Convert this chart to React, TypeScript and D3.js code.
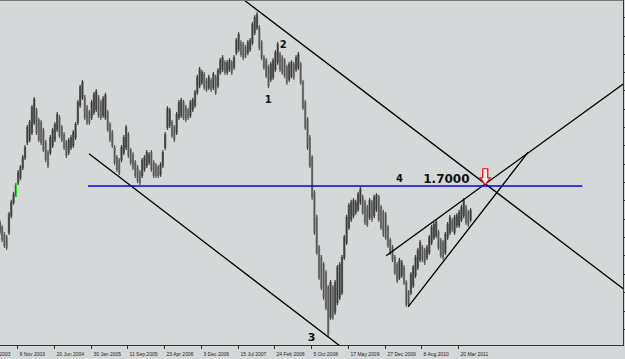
import React from 'react';
import * as d3 from 'd3';

// ---- data (GBP/USD weekly chart, bars sampled every two weeks) ----
const firstBarDate = '2003-07-27';
const barStepDays = 14;
const barHighs = [
  1.619, 1.607, 1.590, 1.583, 1.638, 1.667, 1.686, 1.707, 1.738, 1.750,
  1.774, 1.798, 1.846, 1.858, 1.894, 1.913, 1.887, 1.863, 1.858, 1.839,
  1.810, 1.786, 1.822, 1.839, 1.853, 1.877, 1.870, 1.846, 1.829, 1.810,
  1.815, 1.822, 1.834, 1.853, 1.906, 1.942, 1.954, 1.918, 1.894, 1.882,
  1.906, 1.925, 1.932, 1.918, 1.906, 1.915, 1.923, 1.882, 1.853, 1.834,
  1.798, 1.774, 1.767, 1.798, 1.822, 1.846, 1.829, 1.791, 1.781, 1.762,
  1.750, 1.738, 1.767, 1.774, 1.786, 1.781, 1.786, 1.762, 1.755, 1.750,
  1.757, 1.786, 1.829, 1.891, 1.887, 1.858, 1.846, 1.877, 1.906, 1.911,
  1.906, 1.894, 1.887, 1.906, 1.911, 1.930, 1.966, 1.985, 1.978, 1.973,
  1.958, 1.966, 1.958, 1.973, 1.966, 1.982, 2.006, 2.013, 2.001, 2.001,
  2.006, 2.001, 2.013, 2.054, 2.068, 2.049, 2.045, 2.037, 2.049, 2.054,
  2.092, 2.109, 2.116, 2.085, 2.049, 2.013, 2.006, 1.990, 1.997, 2.006,
  2.025, 2.045, 2.021, 2.013, 2.006, 1.990, 1.997, 2.001, 1.997, 2.013,
  2.021, 1.997, 1.954, 1.906, 1.865, 1.822, 1.774, 1.690, 1.631, 1.559,
  1.535, 1.518, 1.499, 1.463, 1.475, 1.463, 1.475, 1.511, 1.518, 1.535,
  1.583, 1.631, 1.659, 1.667, 1.671, 1.667, 1.686, 1.698, 1.679, 1.667,
  1.655, 1.671, 1.667, 1.679, 1.683, 1.679, 1.655, 1.643, 1.638, 1.607,
  1.576, 1.559, 1.535, 1.518, 1.528, 1.523, 1.511, 1.475, 1.451, 1.494,
  1.511, 1.535, 1.552, 1.571, 1.559, 1.552, 1.559, 1.583, 1.607, 1.614,
  1.619, 1.595, 1.576, 1.571, 1.590, 1.614, 1.631, 1.623, 1.631, 1.635,
  1.643, 1.655, 1.671, 1.655, 1.643, 1.647,
];
const barLows = [
  1.583, 1.566, 1.552, 1.547, 1.583, 1.623, 1.655, 1.674, 1.702, 1.714,
  1.738, 1.762, 1.798, 1.805, 1.822, 1.846, 1.822, 1.805, 1.798, 1.781,
  1.757, 1.743, 1.774, 1.791, 1.805, 1.829, 1.815, 1.805, 1.786, 1.767,
  1.774, 1.786, 1.791, 1.810, 1.846, 1.887, 1.906, 1.858, 1.846, 1.846,
  1.858, 1.870, 1.877, 1.863, 1.858, 1.863, 1.858, 1.829, 1.805, 1.791,
  1.750, 1.734, 1.726, 1.757, 1.774, 1.786, 1.767, 1.750, 1.738, 1.719,
  1.707, 1.702, 1.719, 1.734, 1.743, 1.750, 1.734, 1.719, 1.719, 1.719,
  1.722, 1.743, 1.786, 1.834, 1.839, 1.815, 1.805, 1.822, 1.858, 1.863,
  1.858, 1.853, 1.858, 1.863, 1.877, 1.887, 1.918, 1.934, 1.942, 1.930,
  1.925, 1.930, 1.925, 1.930, 1.918, 1.934, 1.966, 1.973, 1.966, 1.966,
  1.973, 1.966, 1.978, 2.013, 2.021, 2.009, 2.001, 2.006, 2.013, 2.021,
  2.037, 2.061, 2.073, 2.025, 2.001, 1.978, 1.958, 1.934, 1.949, 1.954,
  1.973, 1.990, 1.973, 1.966, 1.958, 1.942, 1.949, 1.958, 1.954, 1.973,
  1.978, 1.942, 1.882, 1.834, 1.786, 1.743, 1.667, 1.583, 1.535, 1.475,
  1.451, 1.427, 1.403, 1.339, 1.380, 1.380, 1.392, 1.415, 1.427, 1.439,
  1.523, 1.559, 1.595, 1.614, 1.623, 1.631, 1.638, 1.655, 1.631, 1.607,
  1.602, 1.619, 1.614, 1.623, 1.638, 1.614, 1.595, 1.578, 1.571, 1.552,
  1.535, 1.518, 1.487, 1.468, 1.475, 1.480, 1.463, 1.411, 1.411, 1.439,
  1.456, 1.480, 1.499, 1.518, 1.518, 1.511, 1.523, 1.535, 1.559, 1.571,
  1.576, 1.547, 1.528, 1.523, 1.535, 1.571, 1.583, 1.590, 1.583, 1.600,
  1.600, 1.614, 1.623, 1.607, 1.602, 1.614,
];
const signalBarIndex = 7;

const priceTicks = [
  2.104, 2.060, 2.016, 1.973, 1.929, 1.885, 1.841, 1.797, 1.753, 1.709,
  1.666, 1.622, 1.578, 1.534, 1.490, 1.446, 1.402, 1.359,
];
const timeTickLabels = [
  '30 Mar 2003', '9 Nov 2003', '20 Jun 2004', '30 Jan 2005', '11 Sep 2005',
  '23 Apr 2006', '3 Dec 2006', '15 Jul 2007', '24 Feb 2008', '5 Oct 2008',
  '17 May 2009', '27 Dec 2009', '8 Aug 2010', '20 Mar 2011',
];

// trend lines: [startDate, startPrice, endDate, endPrice]
const blackTrendLines: [string, number, string, number][] = [
  ['2007-08-30', 2.143, '2013-12-21', 1.454],
  ['2005-01-21', 1.777, '2009-04-01', 1.317],
  ['2010-01-06', 1.533, '2013-12-21', 1.944],
  ['2010-05-20', 1.411, '2012-05-21', 1.781],
];
const levelLine: [string, string, number] = ['2005-01-15', '2013-04-16', 1.7];
const arrowPoint: [string, number] = ['2011-09-02', 1.703];
const waveLabels: [string, string, number][] = [
  ['1', '2008-01-18', 1.908],
  ['2', '2008-04-18', 2.039],
  ['3', '2008-10-09', 1.337],
  ['4', '2010-03-29', 1.717],
];
const levelLabel: [string, string, number] = ['1.7000', '2010-08-20', 1.717];

// ---- layout ----
const W = 625;
const H = 359;
const plotRight = 623;
const plotBottom = 345;
const BG = '#d4d8d8';

const parseIso = d3.timeParse('%Y-%m-%d');
const parseLabel = d3.timeParse('%d %b %Y');

const x = d3
  .scaleTime()
  .domain([parseLabel('9 Nov 2003') as Date, parseLabel('20 Mar 2011') as Date])
  .range([17, 458]);
const y = d3.scaleLinear().domain([1.3196, 2.145]).range([plotBottom, 0]);

export default function App() {
  const start = parseIso(firstBarDate) as Date;
  const bars = barHighs.map((hi, i) => {
    const d = d3.timeDay.offset(start, i * barStepDays);
    const d2 = d3.timeDay.offset(start, (i + 1) * barStepDays);
    const mid = (hi + barLows[i]) / 2;
    const prevMid = i > 0 ? (barHighs[i - 1] + barLows[i - 1]) / 2 : mid;
    return { x: x(d), w: x(d2) - x(d), hi, lo: barLows[i], up: mid >= prevMid, i };
  });

  const ax = x(parseIso(arrowPoint[0]) as Date);
  const ay = y(arrowPoint[1]);
  const arrowPath = 'M0,0 L-5,-7 L-2.5,-7 L-2.5,-16 L2.5,-16 L2.5,-7 L5,-7 Z';

  return (
    <svg
      width={W}
      height={H}
      style={{ position: 'fixed', left: 0, top: 0, display: 'block' }}
      xmlns="http://www.w3.org/2000/svg"
    >
      <defs>
        <clipPath id="plotClip">
          <rect x={0} y={0} width={plotRight} height={plotBottom} />
        </clipPath>
      </defs>
      <rect x={0} y={0} width={W} height={H} fill={BG} />
      <g clipPath="url(#plotClip)">
        {bars.map((b) => (
          <g key={b.i}>
            <rect
              x={b.x - b.w / 2}
              y={y(b.hi) + 2}
              width={b.w}
              height={Math.max(1, y(b.lo) - y(b.hi) - 4)}
              fill={b.up ? '#6a6a6a' : '#8a8a8a'}
            />
            <rect
              x={b.x - 0.6}
              y={y(b.hi)}
              width={1.2}
              height={Math.max(1, y(b.lo) - y(b.hi))}
              fill={b.up ? '#3c3c3c' : '#555'}
            />
          </g>
        ))}
        {bars
          .filter((b) => b.i === signalBarIndex)
          .map((b) => (
            <rect
              key="sig"
              x={b.x}
              y={y(b.hi)}
              width={1.2}
              height={y(b.lo) - y(b.hi)}
              fill="#22e022"
            />
          ))}
        {blackTrendLines.map((l, i) => (
          <line
            key={i}
            x1={x(parseIso(l[0]) as Date)}
            y1={y(l[1])}
            x2={x(parseIso(l[2]) as Date)}
            y2={y(l[3])}
            stroke="#000"
            strokeWidth={1.3}
          />
        ))}
        <line
          x1={x(parseIso(levelLine[0]) as Date)}
          x2={x(parseIso(levelLine[1]) as Date)}
          y1={y(levelLine[2])}
          y2={y(levelLine[2])}
          stroke="#0000ff"
          strokeWidth={1.3}
        />
        {waveLabels.map(([t, d, p]) => (
          <text
            key={t}
            x={x(parseIso(d) as Date)}
            y={y(p)}
            textAnchor="middle"
            dominantBaseline="central"
            fontFamily="DejaVu Sans, Verdana, sans-serif"
            fontWeight="bold"
            fontSize={t === '3' ? 11 : 10}
            fill="#111"
          >
            {t}
          </text>
        ))}
        <text
          x={x(parseIso(levelLabel[1]) as Date)}
          y={y(levelLabel[2])}
          dominantBaseline="central"
          fontFamily="DejaVu Sans, Verdana, sans-serif"
          fontWeight="bold"
          fontSize={12}
          fill="#111"
        >
          {levelLabel[0]}
        </text>
        <path
          d={arrowPath}
          transform={`translate(${ax},${ay})`}
          fill="#f0f0f0"
          stroke="#ff0000"
          strokeWidth={1.2}
          strokeLinejoin="miter"
        />
      </g>
      {/* borders */}
      <line x1={0} x2={plotRight} y1={0.5} y2={0.5} stroke="#777" strokeWidth={1} />
      <line x1={0} x2={plotRight + 0.5} y1={plotBottom + 0.5} y2={plotBottom + 0.5} stroke="#333" strokeWidth={1} />
      <line x1={plotRight + 0.5} x2={plotRight + 0.5} y1={0} y2={plotBottom + 1} stroke="#333" strokeWidth={1} />
      {priceTicks.map((p) => (
        <line
          key={p}
          x1={plotRight + 1}
          x2={W}
          y1={Math.round(y(p)) + 0.5}
          y2={Math.round(y(p)) + 0.5}
          stroke="#333"
          strokeWidth={1}
        />
      ))}
      {timeTickLabels.map((lab) => {
        const tx = Math.round(x(parseLabel(lab) as Date)) + 0.5;
        return (
          <g key={lab}>
            <line x1={tx} x2={tx} y1={plotBottom + 1} y2={plotBottom + 4} stroke="#333" strokeWidth={1} />
            <text
              x={tx + 2}
              y={356}
              fontFamily="Liberation Sans, Arial, sans-serif"
              fontSize={5}
              fill="#222"
            >
              {lab}
            </text>
          </g>
        );
      })}
    </svg>
  );
}
